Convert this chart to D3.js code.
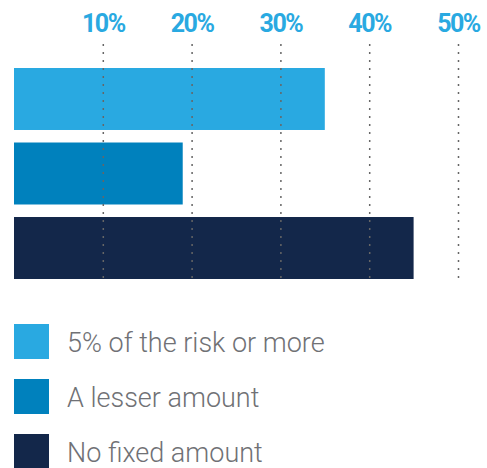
<!DOCTYPE html>
<html>
<head>
<meta charset="utf-8">
<script src="https://cdn.jsdelivr.net/npm/d3@7"></script>
<style>
  html, body { margin: 0; padding: 0; background: #fff; }
  svg { display: block; }
</style>
</head>
<body>
<svg id="chart" width="487" height="468"></svg>
<script>
// Share of respondents by amount of risk retained
const categories = ["5% of the risk or more", "A lesser amount", "No fixed amount"];
const values = [35, 19, 45];
const colors = ["#29a9e1", "#0081bd", "#13274a"];
const tickValues = [10, 20, 30, 40, 50];

const svg = d3.select("#chart");

const x = d3.scaleLinear().domain([0, 50]).range([14, 458]);
const y = d3.scaleBand().domain(categories).range([68, 279]).paddingInner(0.168).paddingOuter(0);

// bars
svg.append("g").selectAll("rect")
  .data(categories)
  .join("rect")
  .attr("x", x(0))
  .attr("y", d => y(d))
  .attr("width", (d, i) => x(values[i]) - x(0))
  .attr("height", y.bandwidth())
  .attr("fill", (d, i) => colors[i]);

// top axis: percentage labels with dotted gridlines drawn over the bars
const axis = d3.axisTop(x)
  .tickValues(tickValues)
  .tickFormat(d => d + "%")
  .tickSize(0)
  .tickPadding(0);

const gAxis = svg.append("g")
  .attr("transform", "translate(0,32)")
  .call(axis);

gAxis.select(".domain").remove();
gAxis.selectAll("text")
  .attr("fill", "#29a9e1")
  .attr("font-family", "Roboto, sans-serif")
  .attr("font-weight", 700)
  .attr("font-size", 25)
  .attr("letter-spacing", "-1.5px")
  .attr("dy", 0);

gAxis.selectAll(".tick").append("line")
  .attr("y1", 12)
  .attr("y2", 247)
  .attr("stroke", "#666")
  .attr("stroke-width", 1.5)
  .attr("stroke-dasharray", "2,6");

// legend
const ly = d3.scalePoint().domain(categories).range([324, 434]);
const legend = svg.append("g").selectAll("g")
  .data(categories)
  .join("g")
  .attr("transform", d => `translate(14,${ly(d)})`);

legend.append("rect")
  .attr("width", 35)
  .attr("height", 35)
  .attr("fill", (d, i) => colors[i]);

legend.append("text")
  .attr("x", 53)
  .attr("y", 28)
  .attr("fill", "#707175")
  .attr("font-family", "Roboto, sans-serif")
  .attr("font-weight", 300)
  .attr("font-size", 27)
  .text(d => d);
</script>
</body>
</html>
